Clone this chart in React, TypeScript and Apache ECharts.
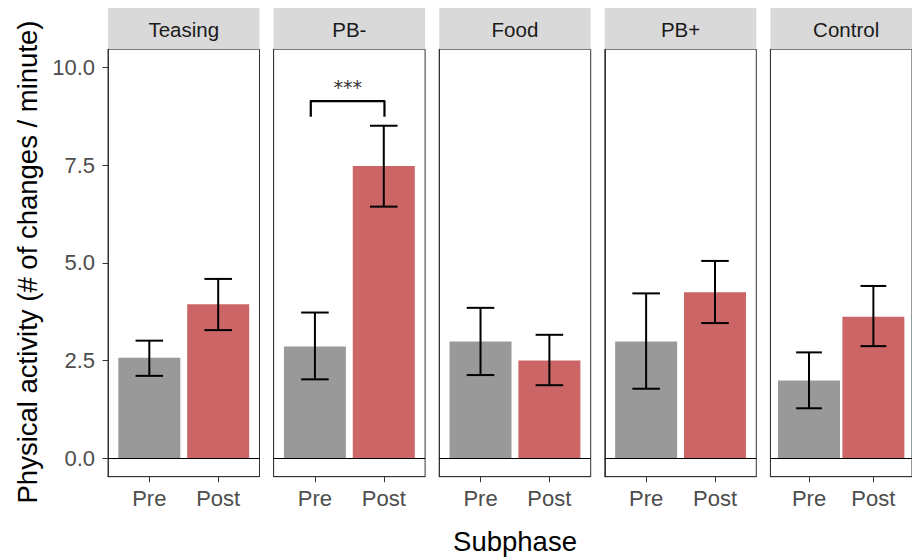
import { useEffect, useRef } from 'react';
import * as echarts from 'echarts';

const panels = ['Teasing', 'PB-', 'Food', 'PB+', 'Control'];
const subphases = ['Pre', 'Post'];
const preMean = [2.57, 2.86, 2.99, 2.99, 1.99];
const postMean = [3.94, 7.48, 2.5, 4.25, 3.62];
const preLow = [2.11, 2.02, 2.13, 1.78, 1.28];
const preHigh = [3.01, 3.73, 3.85, 4.22, 2.71];
const postLow = [3.28, 6.44, 1.87, 3.46, 2.87];
const postHigh = [4.59, 8.51, 3.16, 5.05, 4.41];
const yTicks = [0, 2.5, 5, 7.5, 10];
// significance bracket (panel index, x start, x end, bar y, tip y, label y, label)
const sigPanel = 1;
const sigX = [0.94, 2.01];
const sigY = [9.14, 8.74];
const sigLabelY = 9.5;
const sigLabel = '***';

const FONT = '"Liberation Sans", Arial, Helvetica, sans-serif';

export default function App() {
  const ref = useRef<HTMLDivElement>(null);
  useEffect(() => {
    const chart = echarts.init(ref.current!, null, { renderer: 'svg' });
    const W = 151.5;
    const step = 165.6;
    const left0 = 108;
    const top = 49.3;
    const height = 427.4;
    const grids: any[] = [];
    const xAxes: any[] = [];
    const yAxes: any[] = [];
    const series: any[] = [];
    const graphics: any[] = [];

    panels.forEach((p, i) => {
      const left = left0 + i * step;
      grids.push({
        left, top, width: W, height,
        show: true, borderColor: '#333333', borderWidth: 1, backgroundColor: '#ffffff',
      });
      xAxes.push({
        type: 'value', gridIndex: i, min: 0.4, max: 2.6,
        splitLine: { show: false },
        axisLine: { show: true, onZero: false, lineStyle: { color: '#333333', width: 1 } },
        axisTick: { show: true, customValues: [1, 2], length: 5.5, lineStyle: { color: '#333333', width: 1 } },
        axisLabel: {
          customValues: [1, 2],
          formatter: (v: number) => subphases[Math.round(v) - 1],
          fontSize: 22, color: '#4D4D4D', fontFamily: FONT, margin: 11,
        },
      });
      yAxes.push({
        type: 'value', gridIndex: i, min: -0.471, max: 10.466,
        splitLine: { show: false },
        axisLine: { show: true, onZero: false, lineStyle: { color: '#333333', width: 1 } },
        axisTick: { show: i === 0, customValues: yTicks, length: 5.5, lineStyle: { color: '#333333', width: 1 } },
        axisLabel: {
          show: i === 0,
          customValues: yTicks,
          formatter: (v: number) => v.toFixed(1),
          fontSize: 22, color: '#4D4D4D', fontFamily: FONT, margin: 13,
        },
      });
      series.push({
        type: 'bar', xAxisIndex: i, yAxisIndex: i, barWidth: 62, z: 2,
        data: [
          { value: [1, preMean[i]], itemStyle: { color: '#999999' } },
          { value: [2, postMean[i]], itemStyle: { color: '#CC6666' } },
        ],
        markLine: {
          silent: true, symbol: ['none', 'none'],
          label: { show: false },
          lineStyle: { color: '#000000', width: 1, type: 'solid' },
          data: [{ yAxis: 0 }],
        },
      });
      series.push({
        type: 'custom', xAxisIndex: i, yAxisIndex: i, z: 5,
        data: [
          [1, preLow[i], preHigh[i]],
          [2, postLow[i], postHigh[i]],
        ],
        encode: { x: 0, y: [1, 2] },
        renderItem: (params: any, api: any) => {
          const x = api.value(0);
          const lo = api.coord([x, api.value(1)]);
          const hi = api.coord([x, api.value(2)]);
          const hw = api.size([0.2, 0])[0];
          const st = { stroke: '#000000', lineWidth: 2 };
          return {
            type: 'group',
            children: [
              { type: 'line', shape: { x1: lo[0], y1: lo[1], x2: hi[0], y2: hi[1] }, style: st },
              { type: 'line', shape: { x1: lo[0] - hw, y1: lo[1], x2: lo[0] + hw, y2: lo[1] }, style: st },
              { type: 'line', shape: { x1: hi[0] - hw, y1: hi[1], x2: hi[0] + hw, y2: hi[1] }, style: st },
            ],
          };
        },
      });
      graphics.push({
        type: 'rect', shape: { x: left, y: 8, width: W, height: top - 8 },
        style: { fill: '#D9D9D9' }, silent: true,
      });
      graphics.push({
        type: 'text', x: left + W / 2, y: (8 + top) / 2 + 1,
        style: { text: p, fontSize: 20.5, fill: '#1A1A1A', fontFamily: FONT, align: 'center', verticalAlign: 'middle' },
        silent: true,
      });
    });

    series.push({
      type: 'custom', xAxisIndex: sigPanel, yAxisIndex: sigPanel, z: 6,
      data: [[sigX[0], sigX[1], sigY[0], sigY[1], sigLabelY]],
      encode: { x: [0, 1], y: [2, 3, 4] },
      renderItem: (params: any, api: any) => {
        const x0 = api.value(0), x1 = api.value(1), yb = api.value(2), yt = api.value(3), yl = api.value(4);
        const a = api.coord([x0, yt]);
        const b = api.coord([x0, yb]);
        const c = api.coord([x1, yb]);
        const d = api.coord([x1, yt]);
        const m = api.coord([(x0 + x1) / 2, yl]);
        return {
          type: 'group',
          children: [
            { type: 'polyline', shape: { points: [a, b, c, d] }, style: { stroke: '#000000', lineWidth: 2.2, fill: 'none', lineJoin: 'round' } },
            { type: 'text', x: m[0], y: m[1], style: { text: sigLabel, fontSize: 19, fill: '#333333', fontFamily: '"DejaVu Sans", sans-serif', align: 'center', verticalAlign: 'middle' } },
          ],
        };
      },
    });

    graphics.push({
      type: 'text', x: 27, y: 262, rotation: Math.PI / 2,
      style: { text: 'Physical activity (# of changes / minute)', fontSize: 27.5, fill: '#000000', fontFamily: FONT, align: 'center', verticalAlign: 'middle' },
      silent: true,
    });
    graphics.push({
      type: 'text', x: 515, y: 541,
      style: { text: 'Subphase', fontSize: 27.5, fill: '#000000', fontFamily: FONT, align: 'center', verticalAlign: 'middle' },
      silent: true,
    });

    chart.setOption({
      animation: false,
      backgroundColor: '#ffffff',
      textStyle: { fontFamily: FONT },
      grid: grids,
      xAxis: xAxes,
      yAxis: yAxes,
      series,
      graphic: graphics,
    });
    return () => chart.dispose();
  }, []);
  return <div ref={ref} style={{ position: 'fixed', left: 0, top: 0, width: 912, height: 557 }} />;
}
